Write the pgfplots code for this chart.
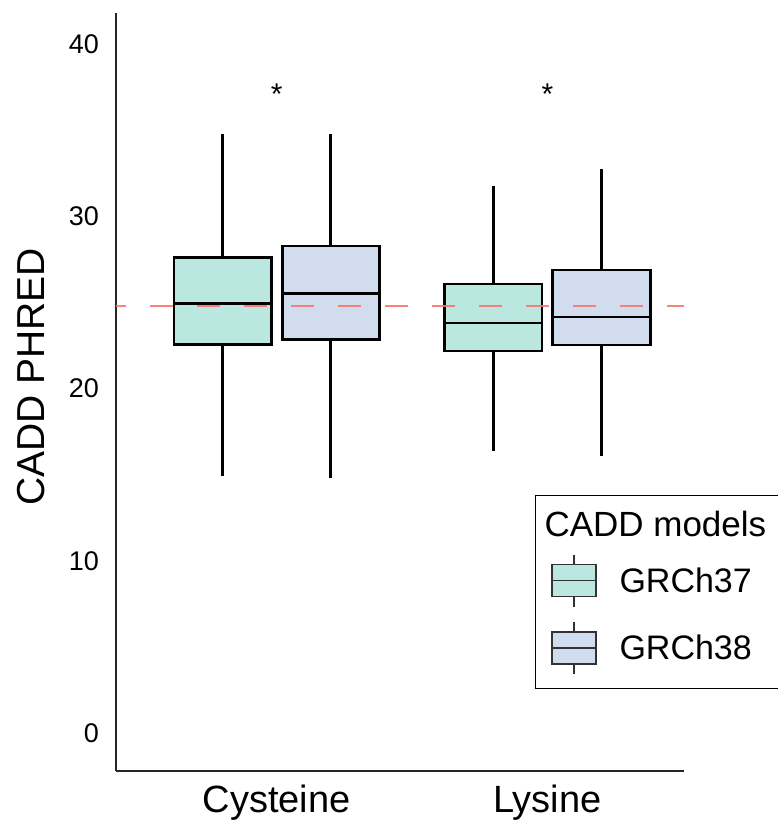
\documentclass[border=0pt]{standalone}
\usepackage{fontspec}
\setmainfont{Liberation Sans}
\usepackage{pgfplots}
\pgfplotsset{compat=1.18}
\usepgfplotslibrary{statistics}
\definecolor{cA}{HTML}{BAE8E0}
\definecolor{cB}{HTML}{D1DDEE}
\definecolor{cRef}{HTML}{F8766D}
\begin{document}
\begin{tikzpicture}
\begin{axis}[
  name=ax,
  scale only axis,
  width=568pt, height=758pt,
  xmin=0.406, xmax=2.505,
  ymin=-2.2, ymax=41.8,
  boxplot/draw direction=y,
  boxplot/every box/.style={line width=2.8pt, draw=black},
  boxplot/every median/.style={line width=2.8pt, draw=black},
  boxplot/every whisker/.style={line width=2.8pt, draw=black},
  axis x line*=bottom, axis y line*=left,
  axis line style={line width=1.6pt, draw=black!85},
  xtick={1,2}, xticklabels={Cysteine,Lysine},
  ytick={0,10,20,30,40},
  major tick length=0pt,
  /pgf/number format/assume math mode=true,
  xticklabel style={font=\fontsize{38}{44}\selectfont, inner sep=0pt, yshift=-14pt},
  yticklabel style={font=\fontsize{27}{32}\selectfont, inner sep=0pt, xshift=-17pt},
  ylabel={CADD PHRED},
  ylabel style={font=\fontsize{39}{46}\selectfont, at={(axis description cs:-0.149,0.52)}, anchor=center, rotate=0},
  clip=false,
  legend style={
    at={(axis description cs:0.737,0.3645)}, anchor=north west,
    draw=black, line width=1.2pt,
    font=\fontsize{34}{40}\selectfont,
    inner xsep=16pt, inner ysep=14pt,
    row sep=14pt,
    cells={anchor=west},
    /tikz/every odd column/.append style={column sep=21pt},
  },
  legend cell align=left,
]
\addlegendimage{empty legend}
\addlegendentry{\hspace{-75pt}\fontsize{35}{40}\selectfont CADD models}

\addplot+[boxplot prepared={draw position=0.8, box extend=0.36, whisker extend=0,
    lower whisker=14.94, lower quartile=22.58,
    median=24.96, upper quartile=27.62, upper whisker=34.8},
  draw=black, fill=cA, line width=2.8pt, mark=none, solid,
  legend image code/.code={
    \draw[line width=1.3pt, draw=black!80] (22pt,16pt) -- (22pt,26pt);
    \draw[line width=1.3pt, draw=black!80] (22pt,-16pt) -- (22pt,-26pt);
    \draw[line width=1.3pt, draw=black!80, fill=cA] (0pt,-16pt) rectangle (44pt,16pt);
    \draw[line width=1.3pt, draw=black!80] (0pt,0pt) -- (44pt,0pt);
  }] coordinates {};
\addlegendentry{GRCh37}

\addplot+[boxplot prepared={draw position=1.2, box extend=0.36, whisker extend=0,
    lower whisker=14.8, lower quartile=22.87,
    median=25.54, upper quartile=28.27, upper whisker=34.8},
  draw=black, fill=cB, line width=2.8pt, mark=none, solid,
  legend image code/.code={
    \draw[line width=1.3pt, draw=black!80] (22pt,16pt) -- (22pt,26pt);
    \draw[line width=1.3pt, draw=black!80] (22pt,-16pt) -- (22pt,-26pt);
    \draw[line width=1.3pt, draw=black!80, fill=cB] (0pt,-16pt) rectangle (44pt,16pt);
    \draw[line width=1.3pt, draw=black!80] (0pt,0pt) -- (44pt,0pt);
  }] coordinates {};
\addlegendentry{GRCh38}

\addplot+[forget plot, boxplot prepared={draw position=1.8, box extend=0.36, whisker extend=0,
    lower whisker=16.37, lower quartile=22.18,
    median=23.8, upper quartile=26.07, upper whisker=31.76},
  draw=black, fill=cA, line width=2.8pt, mark=none, solid] coordinates {};

\addplot+[forget plot, boxplot prepared={draw position=2.2, box extend=0.36, whisker extend=0,
    lower whisker=16.08, lower quartile=22.53,
    median=24.15, upper quartile=26.88, upper whisker=32.74},
  draw=black, fill=cB, line width=2.8pt, mark=none, solid] coordinates {};

\addplot[forget plot, draw=cRef, opacity=0.9, line width=2.8pt,
  dash pattern=on 23pt off 24pt, dash phase=13pt] coordinates {(0.406,24.79) (2.505,24.79)};

\node[font=\fontsize{30}{36}\selectfont] at (axis cs:1,37.1) {*};
\node[font=\fontsize{30}{36}\selectfont] at (axis cs:2,37.1) {*};
\end{axis}
\pgfresetboundingbox
\path (ax.south west) ++(-116pt,-51pt) rectangle ++(777pt,822pt);
\end{tikzpicture}
\end{document}
